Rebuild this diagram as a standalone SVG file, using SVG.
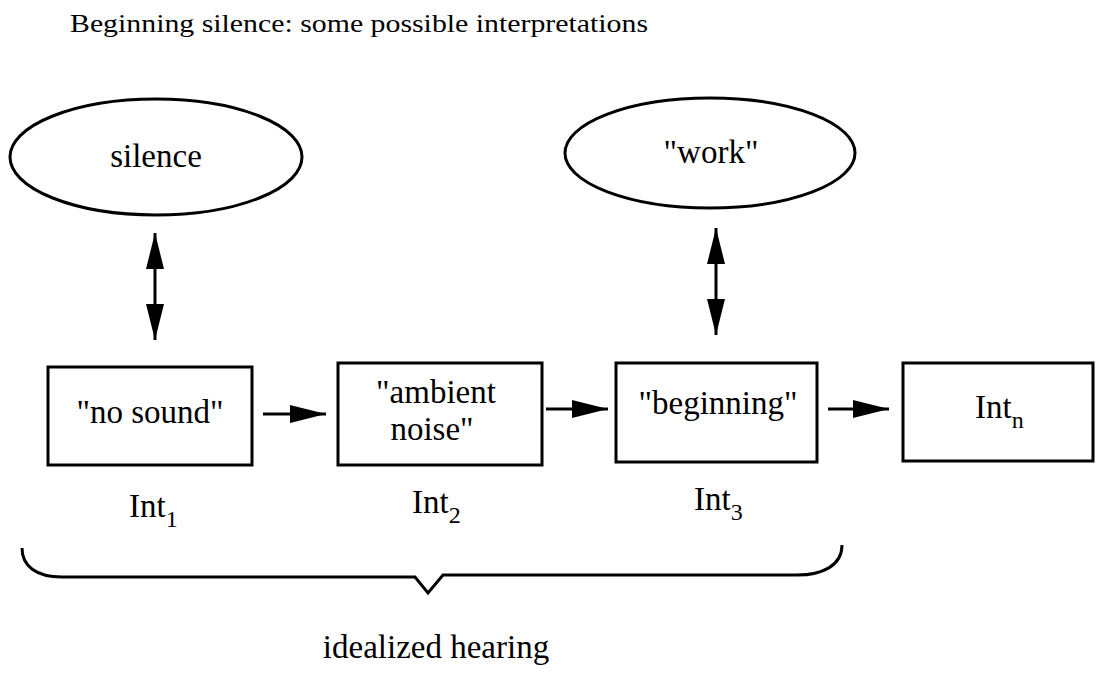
<svg xmlns="http://www.w3.org/2000/svg" width="1100" height="673" viewBox="0 0 1100 673">
<style>
text{font-family:"Liberation Serif","Times New Roman",serif;fill:#000}
.t{font-size:33px}
.title{font-size:26px}
.sub{font-size:24px}
.shape{fill:#fff;stroke:#000;stroke-width:3}
.conn{stroke:#000;stroke-width:3;fill:none}
</style>
<defs>
<marker id="ah" viewBox="0 0 12 6" refX="12" refY="3" markerWidth="12" markerHeight="6" markerUnits="userSpaceOnUse" orient="auto-start-reverse">
<path d="M0,0 L12,3 L0,6 Z" fill="#000"/>
</marker>
<marker id="ah2" viewBox="0 0 36 18" refX="36" refY="9" markerWidth="36" markerHeight="18" markerUnits="userSpaceOnUse" orient="auto-start-reverse">
<path d="M0,0 L36,9 L0,18 Z" fill="#000"/>
</marker>
</defs>
<text class="title" x="70" y="32" textLength="578" lengthAdjust="spacingAndGlyphs">Beginning silence: some possible interpretations</text>
<g id="silence">
<ellipse class="shape" cx="156" cy="157" rx="146" ry="58"/>
<text class="t" x="156" y="167" text-anchor="middle">silence</text>
</g>
<g id="work">
<ellipse class="shape" cx="710" cy="153" rx="145" ry="55"/>
<text class="t" x="711" y="163" text-anchor="middle">"work"</text>
</g>
<g id="int1">
<rect class="shape" x="48" y="367" width="204" height="98"/>
<text class="t" x="150" y="423" text-anchor="middle">"no sound"</text>
<text class="t" x="129" y="517">Int<tspan class="sub" dy="10">1</tspan></text>
</g>
<g id="int2">
<rect class="shape" x="338" y="363" width="204" height="102"/>
<text class="t" x="436" y="403" text-anchor="middle">"ambient</text>
<text class="t" x="432" y="440" text-anchor="middle">noise"</text>
<text class="t" x="412" y="513">Int<tspan class="sub" dy="10">2</tspan></text>
</g>
<g id="int3">
<rect class="shape" x="616" y="363" width="201" height="99"/>
<text class="t" x="718" y="414" text-anchor="middle">"beginning"</text>
<text class="t" x="694" y="510">Int<tspan class="sub" dy="10">3</tspan></text>
</g>
<g id="intn">
<rect class="shape" x="903" y="363" width="190" height="98"/>
<text class="t" x="975" y="418">Int<tspan class="sub" dy="10">n</tspan></text>
</g>
<g id="connectors">
<line class="conn" x1="155" y1="233" x2="155" y2="340" marker-start="url(#ah2)" marker-end="url(#ah2)"/>
<line class="conn" x1="716" y1="228" x2="716" y2="335" marker-start="url(#ah2)" marker-end="url(#ah2)"/>
<line class="conn" x1="263" y1="414" x2="326" y2="414" marker-end="url(#ah2)"/>
<line class="conn" x1="546" y1="409" x2="608" y2="409" marker-end="url(#ah2)"/>
<line class="conn" x1="828" y1="409" x2="889" y2="409" marker-end="url(#ah2)"/>
</g>
<g id="brace">
<path class="conn" d="M22,548 C22,566 36,577 62,577 L415,577 L428,593 L443,575 L797,575 C822,575 842,566 842,545"/>
<text class="t" x="436" y="658" text-anchor="middle">idealized hearing</text>
</g>
</svg>
